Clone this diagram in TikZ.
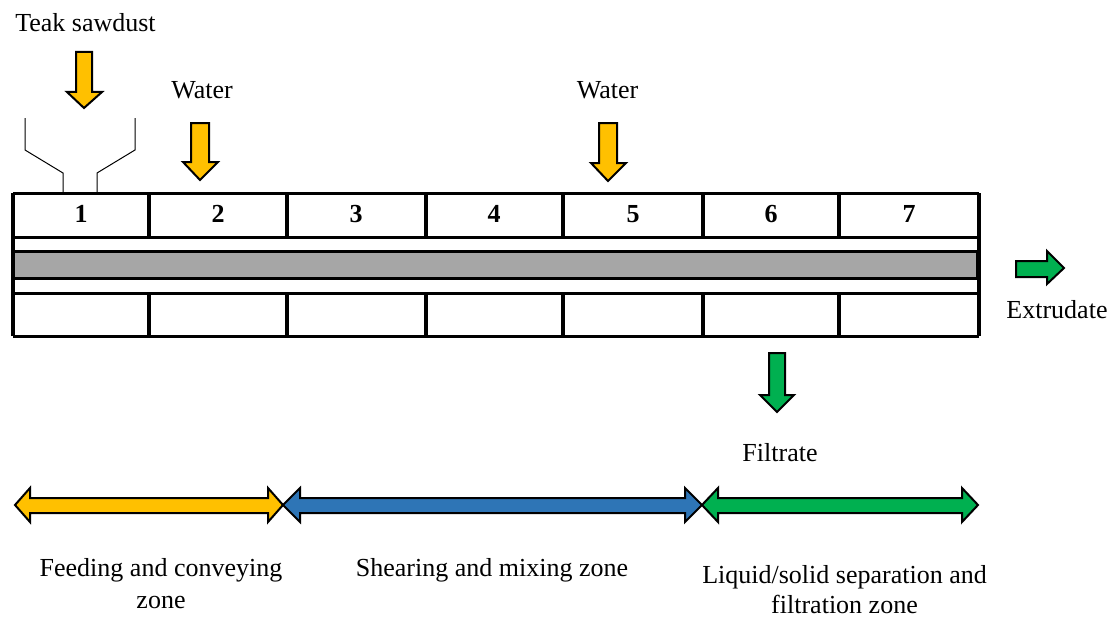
\documentclass[tikz,border=0pt]{standalone}
\usepackage{fontspec}
\setmainfont{Liberation Serif}
\definecolor{cyel}{HTML}{FFC000}
\definecolor{cblue}{HTML}{2E75B6}
\definecolor{cgreen}{HTML}{00B050}
\definecolor{cgray}{HTML}{A6A6A6}
\begin{document}
\begin{tikzpicture}[x=1pt,y=-1pt,
  lbl/.style={font=\fontsize{26}{31}\selectfont,inner sep=0pt,anchor=base},
  num/.style={font=\fontsize{26}{31}\selectfont\bfseries,inner sep=0pt,anchor=base},
  barrel/.style={line width=3pt},
  divider/.style={line width=3.5pt},
  arrowshape/.style={draw=black,line width=2pt,line join=miter},
  hopper/.style={line width=1pt}]
\useasboundingbox (0,0) rectangle (1112,618);
% gray rod
\draw[barrel,fill=cgray] (13,251) rectangle (977,278);
% barrel rows
\draw[barrel] (13,193) -- (979,193);
\draw[barrel] (13,237) -- (979,237);
\draw[barrel] (13,293) -- (979,293);
\draw[barrel] (13,336) -- (979,336);
\draw[divider] (13,193) -- (13,336);
\draw[divider] (979,193) -- (979,336);
\foreach \x in {149,287,426,563,703,839}{
  \draw[divider] (\x,193) -- (\x,237);
  \draw[divider] (\x,293) -- (\x,336);
}
% numbers
\node[num] (n1) at (81,222) {1};
\node[num] (n2) at (218,222) {2};
\node[num] (n3) at (356,222) {3};
\node[num] (n4) at (494,222) {4};
\node[num] (n5) at (633,222) {5};
\node[num] (n6) at (771,222) {6};
\node[num] (n7) at (909,222) {7};
% hopper
\draw[hopper] (25,118) -- (25,150) -- (63,173) -- (63,193);
\draw[hopper] (135,118) -- (135,150) -- (97,173) -- (97,193);
% yellow down arrows
\draw[arrowshape,fill=cyel] (76,52) -- (92,52) -- (92,92) -- (102,92) -- (84,108) -- (67,92) -- (76,92) -- cycle;
\draw[arrowshape,fill=cyel] (191,123) -- (209,123) -- (209,162) -- (218,162) -- (200,180) -- (183,162) -- (191,162) -- cycle;
\draw[arrowshape,fill=cyel] (599,123) -- (617,123) -- (617,163) -- (626,163) -- (608,181) -- (591,163) -- (599,163) -- cycle;
% green arrows
\draw[arrowshape,fill=cgreen] (1016,261) -- (1047,261) -- (1047,251) -- (1064,268) -- (1047,284) -- (1047,277) -- (1016,277) -- cycle;
\draw[arrowshape,fill=cgreen] (769,353) -- (785,353) -- (785,395) -- (794,395) -- (777,412) -- (760,395) -- (769,395) -- cycle;
% zone double arrows
\draw[arrowshape,fill=cyel] (15,505) -- (30,488) -- (30,498) -- (268,498) -- (268,488) -- (283,505) -- (268,522) -- (268,513) -- (30,513) -- (30,522) -- cycle;
\draw[arrowshape,fill=cblue] (283,505) -- (300,488) -- (300,498) -- (685,498) -- (685,488) -- (702,505) -- (685,522) -- (685,513) -- (300,513) -- (300,522) -- cycle;
\draw[arrowshape,fill=cgreen] (702,505) -- (718,488) -- (718,498) -- (962,498) -- (962,488) -- (978,505) -- (962,522) -- (962,513) -- (718,513) -- (718,522) -- cycle;
% labels
\node[lbl] (teak) at (85.5,32) {Teak sawdust};
\node[lbl] (water1) at (202,99) {Water};
\node[lbl] (water2) at (607.5,99) {Water};
\node[lbl] (extr) at (1057,318) {Extrudate};
\node[lbl] (filt) at (780,461) {Filtrate};
\node[lbl] (feed1) at (161,576) {Feeding and conveying};
\node[lbl] (feed2) at (161,608) {zone};
\node[lbl] (shear) at (492,576) {Shearing and mixing zone};
\node[lbl] (liq1) at (844.5,583) {Liquid/solid separation and};
\node[lbl] (liq2) at (844.5,613) {filtration zone};
\end{tikzpicture}
\end{document}
